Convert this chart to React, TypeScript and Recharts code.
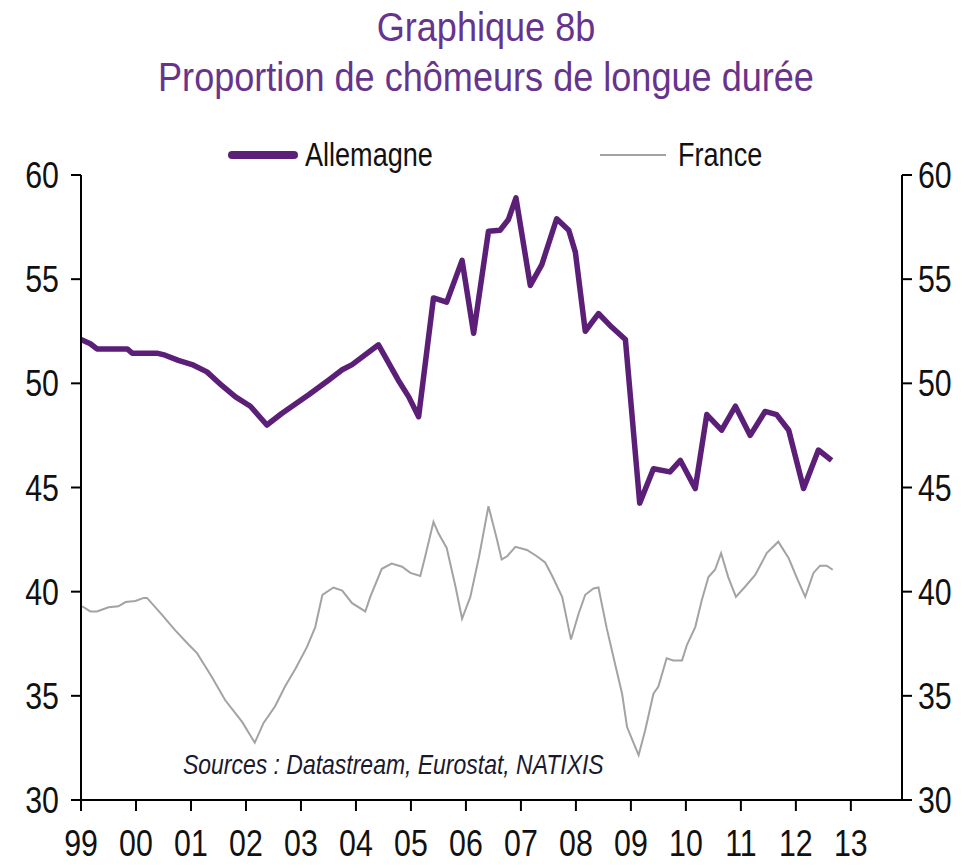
import { Line, LineChart, XAxis, YAxis } from "recharts";

// années (fraction de l'année) et valeurs
const deDates = [
  1999.0, 1999.17, 1999.29, 1999.84, 1999.93, 2000.38, 2000.53, 2000.77, 2001.02, 2001.29,
  2001.56, 2001.81, 2002.08, 2002.38, 2002.65, 2003.14, 2003.5, 2003.75, 2003.93, 2004.41,
  2004.77, 2004.96, 2005.14, 2005.41, 2005.65, 2005.93, 2006.14, 2006.41, 2006.62, 2006.77,
  2006.91, 2007.17, 2007.38, 2007.65, 2007.87, 2007.99, 2008.17, 2008.41, 2008.65, 2008.9,
  2009.16, 2009.41, 2009.71, 2009.9, 2010.17, 2010.38, 2010.65, 2010.9, 2011.17, 2011.44,
  2011.65, 2011.87, 2012.14, 2012.41, 2012.65,
];
const deValues = [
  52.1, 51.9, 51.65, 51.65, 51.45, 51.45, 51.35, 51.1, 50.9, 50.55,
  49.9, 49.35, 48.9, 48.0, 48.55, 49.45, 50.15, 50.65, 50.9, 51.85,
  50.15, 49.35, 48.4, 54.1, 53.9, 55.9, 52.4, 57.3, 57.35, 57.85,
  58.9, 54.7, 55.7, 57.9, 57.35, 56.3, 52.5, 53.35, 52.7, 52.1,
  44.25, 45.9, 45.75, 46.3, 44.95, 48.5, 47.75, 48.9, 47.5, 48.65,
  48.5, 47.75, 44.95, 46.8, 46.3,
];

const frDates = [
  1999.02, 1999.17, 1999.29, 1999.5, 1999.68, 1999.81, 1999.99, 2000.14, 2000.2, 2000.47,
  2000.71, 2000.96, 2001.11, 2001.38, 2001.62, 2001.93, 2002.16, 2002.32, 2002.53, 2002.71,
  2002.9, 2003.11, 2003.26, 2003.39, 2003.59, 2003.75, 2003.93, 2004.17, 2004.26, 2004.47,
  2004.65, 2004.84, 2004.99, 2005.17, 2005.26, 2005.41, 2005.5, 2005.65, 2005.81, 2005.93,
  2006.08, 2006.24, 2006.41, 2006.56, 2006.65, 2006.75, 2006.9, 2007.11, 2007.29, 2007.44,
  2007.56, 2007.75, 2007.91, 2008.05, 2008.17, 2008.32, 2008.41, 2008.56, 2008.71, 2008.84,
  2008.93, 2009.14, 2009.26, 2009.41, 2009.5, 2009.65, 2009.77, 2009.93, 2010.02, 2010.17,
  2010.29, 2010.41, 2010.53, 2010.64, 2010.77, 2010.91, 2011.08, 2011.26, 2011.47, 2011.68,
  2011.87, 2012.02, 2012.17, 2012.32, 2012.44, 2012.56, 2012.67,
];
const frValues = [
  39.3, 39.05, 39.05, 39.25, 39.3, 39.5, 39.55, 39.7, 39.7, 38.9,
  38.15, 37.45, 37.05, 35.9, 34.8, 33.75, 32.75, 33.7, 34.5, 35.45,
  36.3, 37.35, 38.3, 39.85, 40.2, 40.05, 39.45, 39.05, 39.75, 41.1,
  41.35, 41.2, 40.9, 40.75, 41.7, 43.35, 42.8, 42.1, 40.25, 38.7,
  39.75, 41.7, 44.1, 42.55, 41.55, 41.7, 42.15, 42.0, 41.7, 41.4,
  40.8, 39.75, 37.7, 38.95, 39.85, 40.15, 40.2, 38.25, 36.55, 35.1,
  33.5, 32.15, 33.35, 35.1, 35.45, 36.8, 36.7, 36.7, 37.45, 38.3,
  39.6, 40.7, 41.05, 41.85, 40.7, 39.75, 40.25, 40.8, 41.85, 42.4,
  41.6, 40.65, 39.75, 40.9, 41.25, 41.25, 41.05,
];

const yearTicks = [1999, 2000, 2001, 2002, 2003, 2004, 2005, 2006, 2007, 2008, 2009, 2010, 2011, 2012, 2013];
const valueTicks = [30, 35, 40, 45, 50, 55, 60];

const allemagne = deDates.map((t, i) => ({ t, v: deValues[i] }));
const france = frDates.map((t, i) => ({ t, v: frValues[i] }));

// Arial Narrow n'existe pas ici : Liberation Sans compressée horizontalement
const font = "'Liberation Sans', Arial, sans-serif";
const squeeze = 0.82;
const purple = "#5b1f78";
const grey = "#a3a3a3";
const axisStroke = { stroke: "#000", strokeWidth: 2 };

function NarrowTick(props: any) {
  const { x, y, payload, textAnchor, dy, label } = props;
  return (
    <g transform={`translate(${x},${y})`}>
      <text
        transform={`scale(${squeeze},1)`}
        textAnchor={textAnchor}
        dy={dy}
        fontFamily={font}
        fontSize={37}
        fill="#111"
      >
        {label ? label(payload.value) : payload.value}
      </text>
    </g>
  );
}

const narrowText = (extra: Record<string, any>) => ({
  position: "absolute" as const,
  fontFamily: font,
  whiteSpace: "nowrap" as const,
  transformOrigin: "left top",
  ...extra,
});

export default function App() {
  return (
    <div style={{ position: "absolute", left: 0, top: 0, width: 972, height: 867, background: "#fff" }}>
      <div
        style={{
          position: "absolute",
          left: 0,
          top: 2,
          width: 972,
          textAlign: "center",
          fontFamily: font,
          fontSize: 41,
          lineHeight: "50px",
          color: "#66348c",
          transform: "scaleX(0.88)",
          transformOrigin: "center top",
        }}
      >
        <div>Graphique 8b</div>
        <div>Proportion de chômeurs de longue durée</div>
      </div>

      <div style={{ position: "absolute", left: 228, top: 151, width: 70, height: 8, borderRadius: 4, background: purple }} />
      <div style={narrowText({ left: 305, top: 136, fontSize: 33, lineHeight: "38px", color: "#111", transform: `scaleX(${squeeze})` })}>
        Allemagne
      </div>
      <div style={{ position: "absolute", left: 600, top: 154, width: 66, height: 2, background: grey }} />
      <div style={narrowText({ left: 678, top: 136, fontSize: 33, lineHeight: "38px", color: "#111", transform: `scaleX(${squeeze})` })}>
        France
      </div>

      <LineChart
        width={972}
        height={867}
        margin={{ top: 175, right: 10, bottom: 17, left: 21 }}
        style={{ position: "absolute", left: 0, top: 0 }}
      >
        <XAxis
          dataKey="t"
          type="number"
          domain={[1999, 2013.93]}
          ticks={yearTicks}
          allowDataOverflow
          height={50}
          tickSize={11}
          tickMargin={19}
          tick={<NarrowTick dy="0.71em" label={(v: number) => String(v).slice(2)} />}
          axisLine={axisStroke}
          tickLine={axisStroke}
        />
        <YAxis
          yAxisId="left"
          domain={[30, 60]}
          ticks={valueTicks}
          width={60}
          tickSize={10}
          tickMargin={12}
          tick={<NarrowTick dy="0.355em" />}
          axisLine={axisStroke}
          tickLine={axisStroke}
        />
        <YAxis
          yAxisId="right"
          orientation="right"
          domain={[30, 60]}
          ticks={valueTicks}
          width={60}
          tickSize={10}
          tickMargin={6}
          tick={<NarrowTick dy="0.355em" />}
          axisLine={axisStroke}
          tickLine={axisStroke}
        />
        <Line
          yAxisId="right"
          data={france}
          dataKey="v"
          name="France"
          type="linear"
          stroke={grey}
          strokeWidth={2}
          dot={false}
          isAnimationActive={false}
        />
        <Line
          yAxisId="left"
          data={allemagne}
          dataKey="v"
          name="Allemagne"
          type="linear"
          stroke={purple}
          strokeWidth={5.5}
          strokeLinejoin="round"
          dot={false}
          isAnimationActive={false}
        />
      </LineChart>

      <div
        style={narrowText({
          left: 183,
          top: 749,
          fontSize: 28,
          lineHeight: "32px",
          fontStyle: "italic",
          color: "#1a1a2e",
          transform: `scaleX(${squeeze})`,
        })}
      >
        Sources : Datastream, Eurostat, NATIXIS
      </div>
    </div>
  );
}
